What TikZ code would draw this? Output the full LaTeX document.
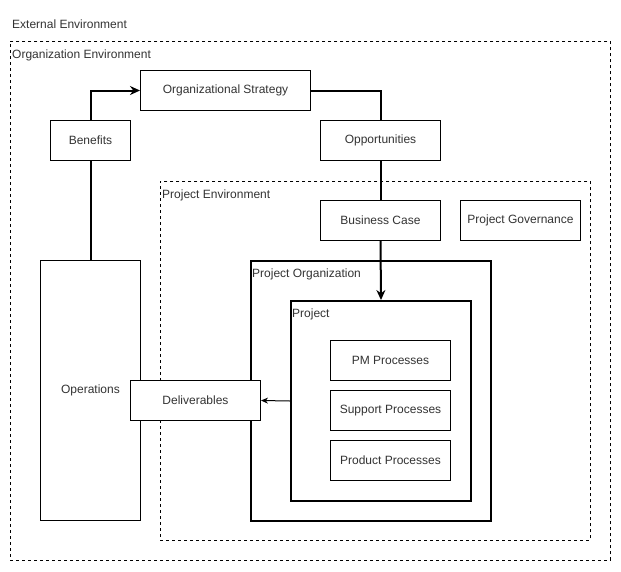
\documentclass[tikz,border=0pt]{standalone}
\usepackage{fontspec}
\setmainfont{Liberation Sans}
\usetikzlibrary{arrows.meta}

\begin{document}
\begin{tikzpicture}[x=1pt, y=-1pt,
    box/.style={draw, fill=white, line width=1pt, inner sep=0pt, anchor=north west,
      text=black!80, font=\fontsize{12}{14}\selectfont},
    env/.style={draw, dash pattern=on 3pt off 3pt, line width=0.8pt, inner sep=0pt, anchor=north west},
    frame/.style={draw, line width=2pt, inner sep=0pt, anchor=north west},
    lbl/.style={inner xsep=2pt, inner ysep=9pt, anchor=north west, text=black!80, font=\fontsize{12}{14}\selectfont},
    flow/.style={line width=2pt}]
  \useasboundingbox (0,0) rectangle (621,571);
  % environments
  \node[lbl, anchor=west] (extlbl) at (10,24) {External Environment};
  \node[env, minimum width=600pt, minimum height=519pt] (orgenv) at (10,41) {};
  \node[lbl] (orglbl) at (orgenv.north west) {Organization Environment};
  \node[env, minimum width=430pt, minimum height=359pt] (projenv) at (160,181) {};
  \node[lbl] (projlbl) at (projenv.north west) {Project Environment};
  % organization level
  \node[box, minimum width=170pt, minimum height=40pt] (strategy) at (140,70) {Organizational Strategy};
  \node[box, minimum width=80pt, minimum height=40pt] (benefits) at (50,120) {Benefits};
  \node[box, minimum width=120pt, minimum height=40pt] (opps) at (320,120) {Opportunities};
  \node[box, minimum width=100pt, minimum height=260pt] (operations) at (40,260) {Operations};
  % project level
  \node[box, minimum width=120pt, minimum height=40pt] (bizcase) at (320,200) {Business Case};
  \node[box, minimum width=120pt, minimum height=40pt] (governance) at (460,200) {Project Governance};
  \node[frame, minimum width=240pt, minimum height=260pt] (projorg) at (250,260) {};
  \node[lbl] (projorglbl) at (projorg.north west) {Project Organization};
  \node[frame, minimum width=180pt, minimum height=200pt] (project) at (290,300) {};
  \node[lbl] (projectlbl) at (project.north west) {Project};
  \node[box, minimum width=120pt, minimum height=40pt] (pm) at (330,340) {PM Processes};
  \node[box, minimum width=120pt, minimum height=40pt] (support) at (330,390) {Support Processes};
  \node[box, minimum width=120pt, minimum height=40pt] (product) at (330,440) {Product Processes};
  \node[box, minimum width=130pt, minimum height=40pt] (deliv) at (130,380) {Deliverables};
  % connectors
  \draw[flow] (operations.north) -- (benefits.south);
  \draw[flow, -{Stealth[length=10pt, width=9pt]}] (benefits.north) |- (strategy.west);
  \draw[flow] (strategy.east) -| (opps.north);
  \draw[flow] (opps.south) -- (bizcase.north);
  \draw[flow, -{Stealth[length=10pt, width=9pt]}] (bizcase.south) -- (project.north);
  \draw[line width=1pt, -{Stealth[length=7pt, width=6pt]}] (project.west) -- (deliv.east);
\end{tikzpicture}
\end{document}
